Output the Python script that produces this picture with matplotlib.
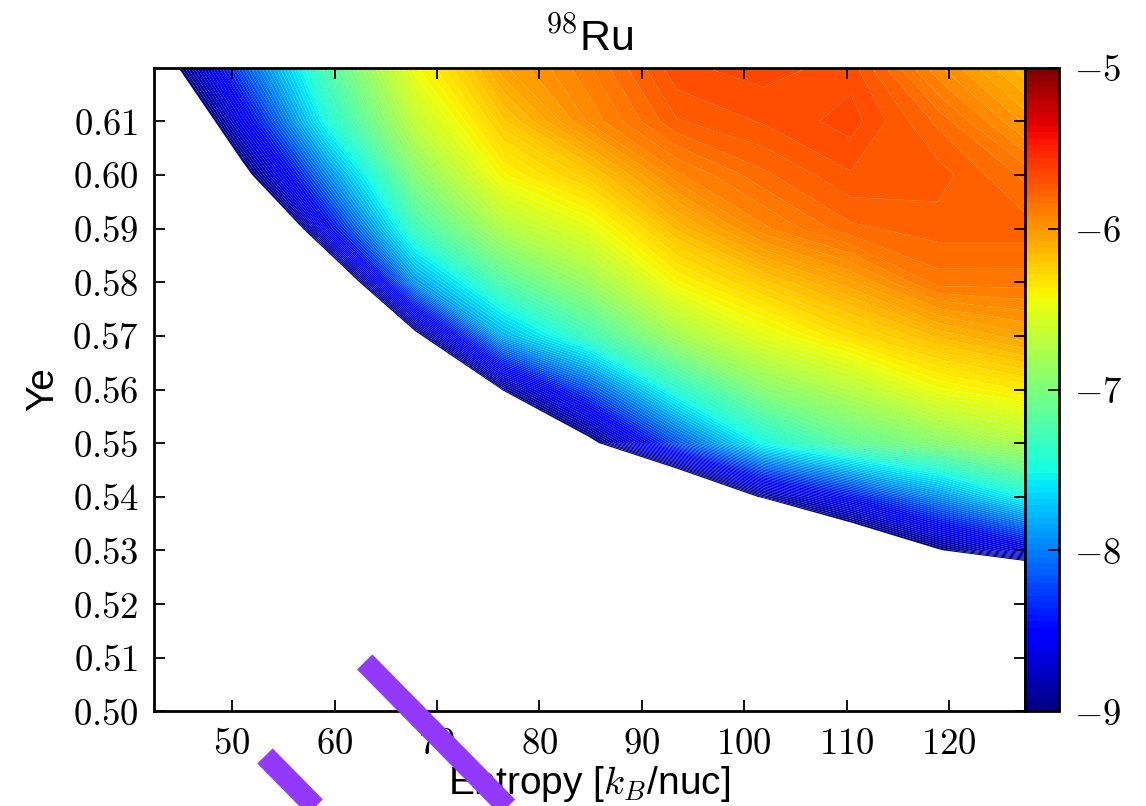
import numpy as np
import matplotlib
matplotlib.use("Agg")
import matplotlib.pyplot as plt
from matplotlib.lines import Line2D
from matplotlib.ticker import FuncFormatter

plt.rcParams['font.family'] = ['Liberation Sans', 'DejaVu Sans']
plt.rcParams['mathtext.fontset'] = 'cm'

# grid: entropy [k_B/nuc] (columns) and Ye (rows)
entropy = [42.4, 50.9, 59.4, 67.9, 76.4, 84.9, 93.4, 101.9, 110.4, 118.9, 127.4]
ye = [0.50, 0.51, 0.52, 0.53, 0.54, 0.55, 0.56, 0.57, 0.58, 0.59, 0.60, 0.61, 0.62]

# log10 abundance of 98Ru, one row per Ye value
log_y = [
    [-13.0, -13.0, -13.0, -13.0, -13.0, -13.0, -13.0, -13.0, -13.0, -13.0, -12.5],
    [-13.0, -13.0, -13.0, -13.0, -13.0, -13.0, -13.0, -13.0, -12.8, -12.4, -11.8],
    [-13.0, -13.0, -13.0, -13.0, -13.0, -13.0, -12.8, -12.4, -12.0, -11.4, -10.6],
    [-13.0, -13.0, -13.0, -13.0, -13.0, -12.6, -12.0, -11.5, -9.6, -9.03, -8.61],
    [-13.0, -13.0, -13.0, -13.0, -12.6, -11.5, -9.9, -8.93, -8.45, -7.95, -7.5],
    [-13.0, -13.0, -13.0, -12.6, -11.0, -9.1, -8.19, -7.5, -7.15, -6.95, -6.75],
    [-13.0, -13.0, -12.5, -11.5, -8.97, -8.19, -7.41, -6.95, -6.72, -6.45, -6.35],
    [-12.5, -12.5, -11.5, -9.1, -7.81, -7.3, -6.81, -6.5, -6.3, -6.15, -6.05],
    [-12.0, -12.0, -9.61, -7.9, -7.21, -6.85, -6.41, -6.21, -6.05, -5.86, -5.86],
    [-11.5, -10.2, -8.5, -7.3, -6.75, -6.5, -6.15, -5.93, -5.81, -5.78, -5.78],
    [-10.8, -9.15, -7.95, -6.95, -6.41, -6.21, -5.93, -5.81, -5.725, -5.74, -5.85],
    [-9.9, -8.61, -7.45, -6.65, -6.21, -5.95, -5.765, -5.715, -5.66, -5.81, -6.01],
    [-9.31, -8.19, -7.21, -6.45, -6.05, -5.885, -5.69, -5.66, -5.70, -5.95, -6.15],
]

cbar_ticks = [-9, -8, -7, -6, -5]
x_ticks = [50, 60, 70, 80, 90, 100, 110, 120]
y_ticks = [0.50, 0.51, 0.52, 0.53, 0.54, 0.55, 0.56, 0.57, 0.58, 0.59, 0.60, 0.61]

S, YE = np.meshgrid(entropy, ye)
Z = np.array(log_y)

fig = plt.figure(figsize=(11.46, 8.06), dpi=100)
ax = fig.add_axes([0.1346, 0.1174, 0.7598, 0.7986])
cax = fig.add_axes([0.8944, 0.1174, 0.0297, 0.7986])

levels = np.linspace(-9, -5, 101)
cs = ax.contourf(S, YE, Z, levels=levels, cmap='jet', antialiased=True)

ax.set_xlim(entropy[0], entropy[-1])
ax.set_ylim(0.50, 0.62)
ax.set_xticks(x_ticks)
ax.set_yticks(y_ticks)
ax.xaxis.set_major_formatter(FuncFormatter(lambda v, p: r'$%d$' % round(v)))
ax.yaxis.set_major_formatter(FuncFormatter(lambda v, p: r'$%.2f$' % v))
ax.tick_params(direction='in', top=True, right=True, length=8, width=1.3,
               labelsize=26.5, pad=11)
for sp in ax.spines.values():
    sp.set_linewidth(2)

ax.set_title(r'$^{98}$Ru', fontsize=31, pad=12)
ax.set_xlabel(r'Entropy [$k_B$/nuc]', fontsize=28, labelpad=2)
ax.set_ylabel('Ye', fontsize=28, labelpad=8)

cbar = fig.colorbar(cs, cax=cax, ticks=cbar_ticks)
cbar.ax.yaxis.set_major_formatter(FuncFormatter(lambda v, p: r'$%d$' % round(v)))
cbar.ax.tick_params(direction='in', length=8, width=1.3, labelsize=26.5, pad=11)
cbar.outline.set_linewidth(2)

# two thick purple strokes across the lower part of the figure
W, H = 1146.0, 806.0
stroke = dict(color='#9339fb', linewidth=15.5, solid_capstyle='butt',
              transform=fig.transFigure, zorder=20, clip_on=False)
for (x0, y0), (x1, y1) in [((364.7, 662.0), (540.0, 840.0)),
                           ((265.0, 756.0), (347.7, 840.0))]:
    fig.add_artist(Line2D([x0 / W, x1 / W], [1 - y0 / H, 1 - y1 / H], **stroke))

fig.savefig('out.png', dpi=100)
